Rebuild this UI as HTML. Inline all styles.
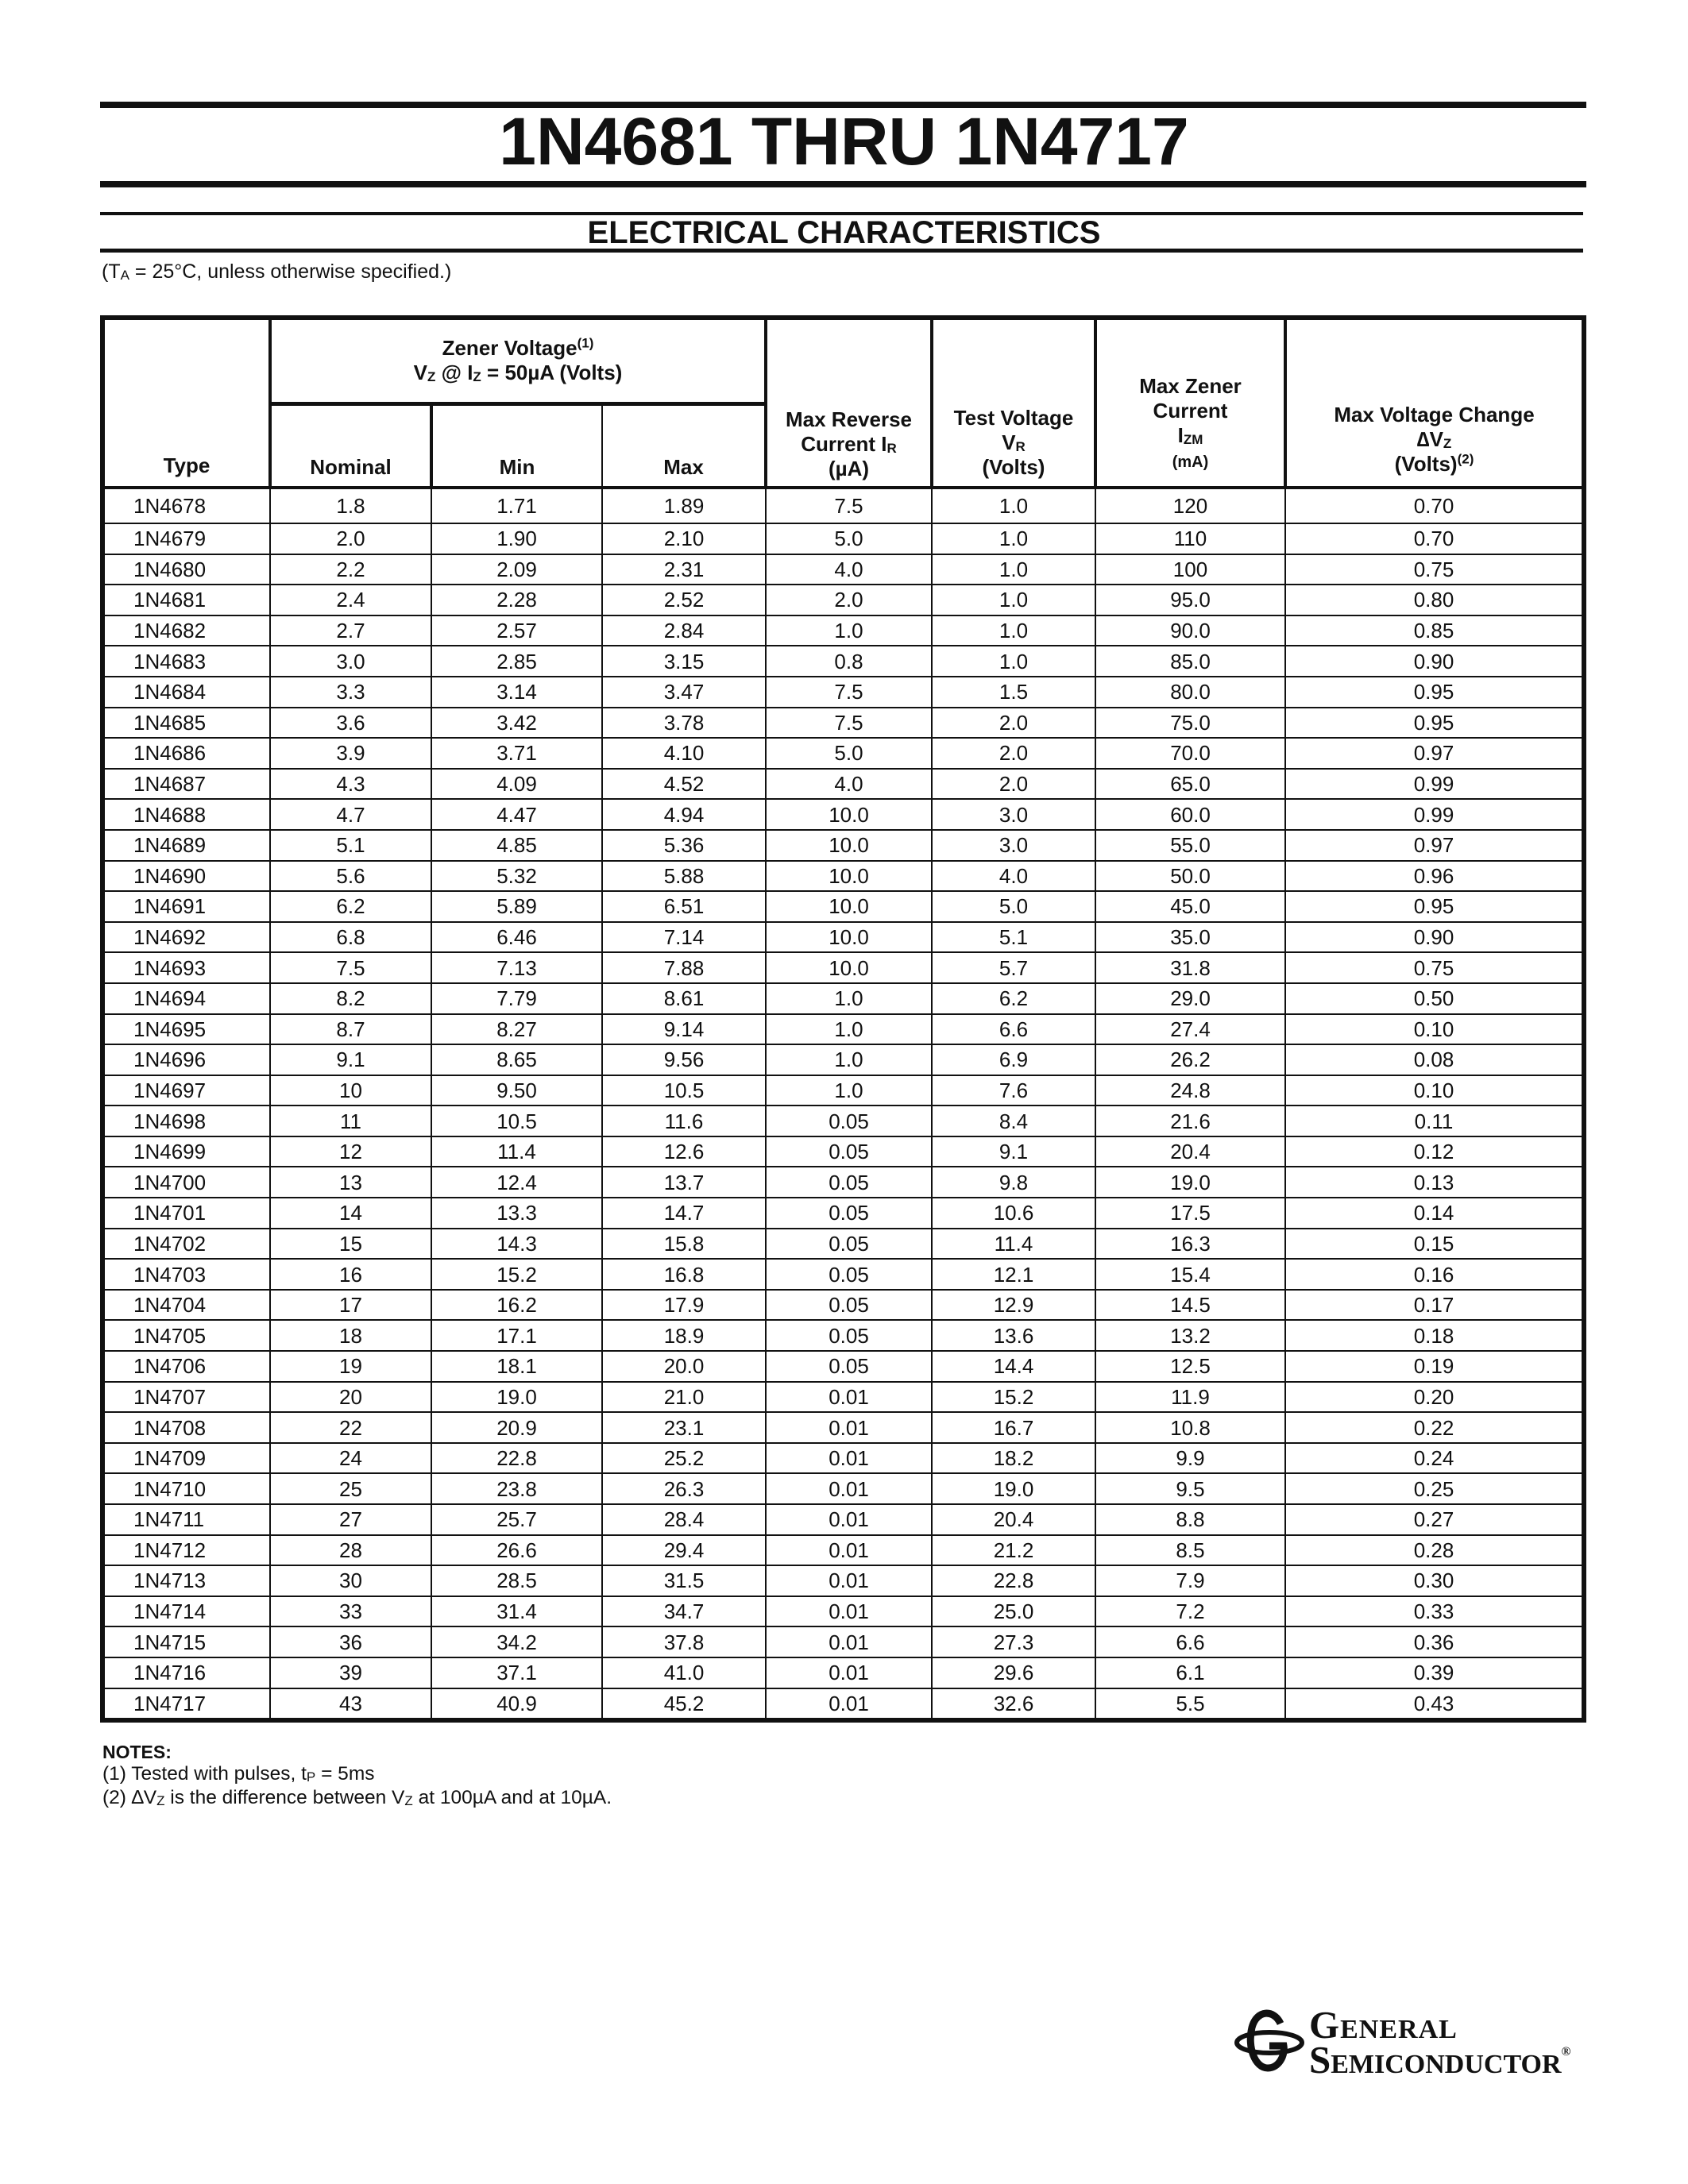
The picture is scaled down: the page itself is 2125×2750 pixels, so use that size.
<!DOCTYPE html>
<html><head><meta charset="utf-8"><style>
html,body{margin:0;padding:0;background:#fff}
body{width:2125px;height:2750px;position:relative;overflow:hidden;font-family:"Liberation Sans",Arial,sans-serif;color:#111}
.bar{position:absolute;left:126px;width:1871px;background:#111}
.t{position:absolute;white-space:nowrap}
table{position:absolute;left:126px;top:397px;border-collapse:collapse;table-layout:fixed;border:6px solid #111}
td{border:2px solid #111;text-align:center;font-size:26px;padding:0;height:36.6px;line-height:26px}
th{border:4px solid #111;font-size:26px;font-weight:bold;padding:0;line-height:31px;vertical-align:bottom;padding-bottom:6px}
th.thin{border-left-width:2px;border-right-width:2px}
td.ty{text-align:left;padding-left:36px}
tr.hd2 th{border-top-width:5px}
tbody tr:first-child td{border-top-width:4px;height:42px}
sup{font-size:17px;line-height:0}
sub{font-size:17px;line-height:0;vertical-align:-2px}
</style></head><body>
<div class="bar" style="top:128px;height:8px"></div>
<div class="t" style="left:0;width:2125px;top:130px;text-align:center;font-weight:bold;font-size:84px;line-height:96px">1N4681 THRU 1N4717</div>
<div class="bar" style="top:228px;height:8px"></div>
<div class="bar" style="top:267px;height:4px;width:1867px"></div>
<div class="t" style="left:0;width:2125px;top:270px;text-align:center;font-weight:bold;font-size:40px;line-height:46px">ELECTRICAL CHARACTERISTICS</div>
<div class="bar" style="top:313px;height:5px;width:1867px"></div>
<div class="t" style="left:128px;top:328px;font-size:25px;line-height:28px">(T<sub>A</sub> = 25°C, unless otherwise specified.)</div>

<table>
<colgroup><col style="width:211px"><col style="width:203px"><col style="width:215px"><col style="width:206px"><col style="width:209px"><col style="width:206px"><col style="width:239px"><col style="width:376px"></colgroup>
<thead>
<tr style="height:108px"><th rowspan="2" style="vertical-align:bottom;padding-bottom:10px">Type</th><th colspan="3" style="vertical-align:top;padding-top:20px;padding-bottom:0">Zener Voltage<sup>(1)</sup><br>V<sub>Z</sub> @ I<sub>Z</sub> = 50µA (Volts)</th><th rowspan="2" style="padding-bottom:6px">Max Reverse<br>Current I<sub>R</sub><br>(µA)</th><th rowspan="2" style="padding-bottom:8px">Test Voltage<br>V<sub>R</sub><br>(Volts)</th><th rowspan="2" style="padding-bottom:14px">Max Zener<br>Current<br>I<sub>ZM</sub><br><span style="font-size:20px">(mA)</span></th><th rowspan="2" style="padding-bottom:12px">Max Voltage Change<br>∆V<sub>Z</sub><br>(Volts)<sup>(2)</sup></th></tr>
<tr class="hd2" style="height:106px"><th style="padding-bottom:8px">Nominal</th><th class="thin" style="padding-bottom:8px">Min</th><th class="thin" style="padding-bottom:8px">Max</th></tr>
</thead>
<tbody>
<tr><td class="ty">1N4678</td><td>1.8</td><td>1.71</td><td>1.89</td><td>7.5</td><td>1.0</td><td>120</td><td>0.70</td></tr>
<tr><td class="ty">1N4679</td><td>2.0</td><td>1.90</td><td>2.10</td><td>5.0</td><td>1.0</td><td>110</td><td>0.70</td></tr>
<tr><td class="ty">1N4680</td><td>2.2</td><td>2.09</td><td>2.31</td><td>4.0</td><td>1.0</td><td>100</td><td>0.75</td></tr>
<tr><td class="ty">1N4681</td><td>2.4</td><td>2.28</td><td>2.52</td><td>2.0</td><td>1.0</td><td>95.0</td><td>0.80</td></tr>
<tr><td class="ty">1N4682</td><td>2.7</td><td>2.57</td><td>2.84</td><td>1.0</td><td>1.0</td><td>90.0</td><td>0.85</td></tr>
<tr><td class="ty">1N4683</td><td>3.0</td><td>2.85</td><td>3.15</td><td>0.8</td><td>1.0</td><td>85.0</td><td>0.90</td></tr>
<tr><td class="ty">1N4684</td><td>3.3</td><td>3.14</td><td>3.47</td><td>7.5</td><td>1.5</td><td>80.0</td><td>0.95</td></tr>
<tr><td class="ty">1N4685</td><td>3.6</td><td>3.42</td><td>3.78</td><td>7.5</td><td>2.0</td><td>75.0</td><td>0.95</td></tr>
<tr><td class="ty">1N4686</td><td>3.9</td><td>3.71</td><td>4.10</td><td>5.0</td><td>2.0</td><td>70.0</td><td>0.97</td></tr>
<tr><td class="ty">1N4687</td><td>4.3</td><td>4.09</td><td>4.52</td><td>4.0</td><td>2.0</td><td>65.0</td><td>0.99</td></tr>
<tr><td class="ty">1N4688</td><td>4.7</td><td>4.47</td><td>4.94</td><td>10.0</td><td>3.0</td><td>60.0</td><td>0.99</td></tr>
<tr><td class="ty">1N4689</td><td>5.1</td><td>4.85</td><td>5.36</td><td>10.0</td><td>3.0</td><td>55.0</td><td>0.97</td></tr>
<tr><td class="ty">1N4690</td><td>5.6</td><td>5.32</td><td>5.88</td><td>10.0</td><td>4.0</td><td>50.0</td><td>0.96</td></tr>
<tr><td class="ty">1N4691</td><td>6.2</td><td>5.89</td><td>6.51</td><td>10.0</td><td>5.0</td><td>45.0</td><td>0.95</td></tr>
<tr><td class="ty">1N4692</td><td>6.8</td><td>6.46</td><td>7.14</td><td>10.0</td><td>5.1</td><td>35.0</td><td>0.90</td></tr>
<tr><td class="ty">1N4693</td><td>7.5</td><td>7.13</td><td>7.88</td><td>10.0</td><td>5.7</td><td>31.8</td><td>0.75</td></tr>
<tr><td class="ty">1N4694</td><td>8.2</td><td>7.79</td><td>8.61</td><td>1.0</td><td>6.2</td><td>29.0</td><td>0.50</td></tr>
<tr><td class="ty">1N4695</td><td>8.7</td><td>8.27</td><td>9.14</td><td>1.0</td><td>6.6</td><td>27.4</td><td>0.10</td></tr>
<tr><td class="ty">1N4696</td><td>9.1</td><td>8.65</td><td>9.56</td><td>1.0</td><td>6.9</td><td>26.2</td><td>0.08</td></tr>
<tr><td class="ty">1N4697</td><td>10</td><td>9.50</td><td>10.5</td><td>1.0</td><td>7.6</td><td>24.8</td><td>0.10</td></tr>
<tr><td class="ty">1N4698</td><td>11</td><td>10.5</td><td>11.6</td><td>0.05</td><td>8.4</td><td>21.6</td><td>0.11</td></tr>
<tr><td class="ty">1N4699</td><td>12</td><td>11.4</td><td>12.6</td><td>0.05</td><td>9.1</td><td>20.4</td><td>0.12</td></tr>
<tr><td class="ty">1N4700</td><td>13</td><td>12.4</td><td>13.7</td><td>0.05</td><td>9.8</td><td>19.0</td><td>0.13</td></tr>
<tr><td class="ty">1N4701</td><td>14</td><td>13.3</td><td>14.7</td><td>0.05</td><td>10.6</td><td>17.5</td><td>0.14</td></tr>
<tr><td class="ty">1N4702</td><td>15</td><td>14.3</td><td>15.8</td><td>0.05</td><td>11.4</td><td>16.3</td><td>0.15</td></tr>
<tr><td class="ty">1N4703</td><td>16</td><td>15.2</td><td>16.8</td><td>0.05</td><td>12.1</td><td>15.4</td><td>0.16</td></tr>
<tr><td class="ty">1N4704</td><td>17</td><td>16.2</td><td>17.9</td><td>0.05</td><td>12.9</td><td>14.5</td><td>0.17</td></tr>
<tr><td class="ty">1N4705</td><td>18</td><td>17.1</td><td>18.9</td><td>0.05</td><td>13.6</td><td>13.2</td><td>0.18</td></tr>
<tr><td class="ty">1N4706</td><td>19</td><td>18.1</td><td>20.0</td><td>0.05</td><td>14.4</td><td>12.5</td><td>0.19</td></tr>
<tr><td class="ty">1N4707</td><td>20</td><td>19.0</td><td>21.0</td><td>0.01</td><td>15.2</td><td>11.9</td><td>0.20</td></tr>
<tr><td class="ty">1N4708</td><td>22</td><td>20.9</td><td>23.1</td><td>0.01</td><td>16.7</td><td>10.8</td><td>0.22</td></tr>
<tr><td class="ty">1N4709</td><td>24</td><td>22.8</td><td>25.2</td><td>0.01</td><td>18.2</td><td>9.9</td><td>0.24</td></tr>
<tr><td class="ty">1N4710</td><td>25</td><td>23.8</td><td>26.3</td><td>0.01</td><td>19.0</td><td>9.5</td><td>0.25</td></tr>
<tr><td class="ty">1N4711</td><td>27</td><td>25.7</td><td>28.4</td><td>0.01</td><td>20.4</td><td>8.8</td><td>0.27</td></tr>
<tr><td class="ty">1N4712</td><td>28</td><td>26.6</td><td>29.4</td><td>0.01</td><td>21.2</td><td>8.5</td><td>0.28</td></tr>
<tr><td class="ty">1N4713</td><td>30</td><td>28.5</td><td>31.5</td><td>0.01</td><td>22.8</td><td>7.9</td><td>0.30</td></tr>
<tr><td class="ty">1N4714</td><td>33</td><td>31.4</td><td>34.7</td><td>0.01</td><td>25.0</td><td>7.2</td><td>0.33</td></tr>
<tr><td class="ty">1N4715</td><td>36</td><td>34.2</td><td>37.8</td><td>0.01</td><td>27.3</td><td>6.6</td><td>0.36</td></tr>
<tr><td class="ty">1N4716</td><td>39</td><td>37.1</td><td>41.0</td><td>0.01</td><td>29.6</td><td>6.1</td><td>0.39</td></tr>
<tr><td class="ty">1N4717</td><td>43</td><td>40.9</td><td>45.2</td><td>0.01</td><td>32.6</td><td>5.5</td><td>0.43</td></tr>
</tbody>
</table>

<div class="t" style="left:129px;top:2193px;font-size:23px;font-weight:bold;line-height:26px">NOTES:</div>
<div class="t" style="left:129px;top:2220px;font-size:24.5px;line-height:28px">(1) Tested with pulses, t<sub>P</sub> = 5ms</div>
<div class="t" style="left:129px;top:2250px;font-size:24.5px;line-height:28px">(2) ∆V<sub>Z</sub> is the difference between V<sub>Z</sub> at 100µA and at 10µA.</div>

<svg style="position:absolute;left:1552px;top:2528px" width="95" height="82" viewBox="0 0 95 82">
 <ellipse cx="46" cy="44" rx="41" ry="13" fill="none" stroke="#111" stroke-width="6"/>
 <path d="M60 20 C52 2 30 2 24 25 C18 50 28 76 44 76 C58 76 66 60 64 48 L46 48" fill="none" stroke="#111" stroke-width="9"/>
</svg>
<div class="t" style="left:1648px;top:2527px;font-family:'Liberation Serif',serif;font-weight:bold;font-variant:small-caps;font-size:49px;line-height:46px;letter-spacing:1px">General</div>
<div class="t" style="left:1648px;top:2571px;font-family:'Liberation Serif',serif;font-weight:bold;font-variant:small-caps;font-size:49px;line-height:46px">Semiconductor<sup style="font-size:16px;vertical-align:22px">®</sup></div>
</body></html>
